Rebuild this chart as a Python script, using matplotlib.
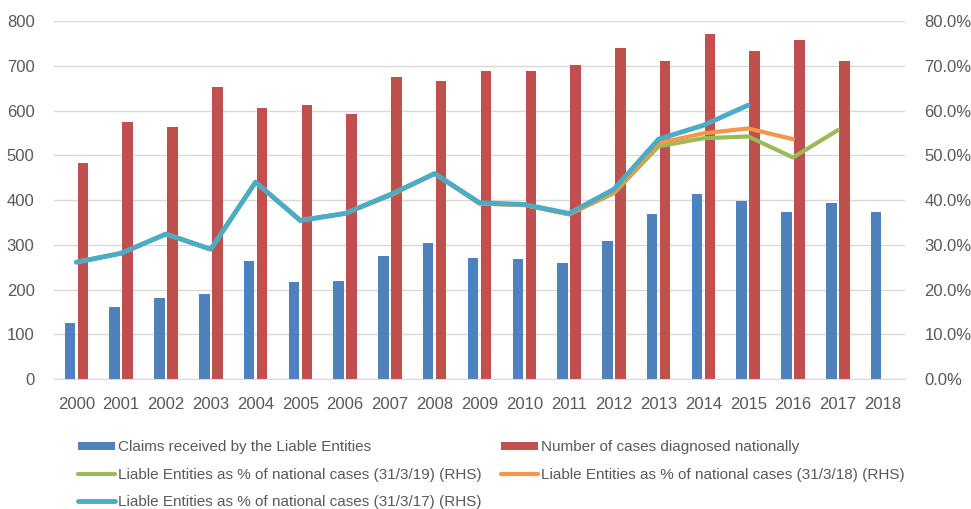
import numpy as np
import matplotlib
matplotlib.use('Agg')
import matplotlib.pyplot as plt
from matplotlib.ticker import PercentFormatter

plt.rcParams['font.family'] = ['Liberation Sans', 'DejaVu Sans']

years = [str(y) for y in range(2000, 2019)]

claims = [125, 161, 181, 190, 264, 217, 219, 275, 304, 270,
          268, 259, 309, 369, 413, 397, 373, 393, 373]
national = [482, 574, 563, 652, 605, 612, 592, 676, 666, 688,
            688, 702, 739, 711, 770, 734, 758, 710, np.nan]

# % of national cases, by reporting date (RHS)
pct_19 = [26.1, 28.1, 32.4, 29.0, 44.0, 35.5, 37.0, 41.0, 45.9, 39.2,
          38.9, 36.8, 41.5, 52.0, 53.8, 54.2, 49.5, 55.6, np.nan]
pct_18 = [26.1, 28.1, 32.4, 29.0, 44.0, 35.5, 37.0, 41.0, 45.9, 39.2,
          38.9, 36.8, 41.8, 52.7, 54.9, 56.0, 53.6, np.nan, np.nan]
pct_17 = [26.1, 28.1, 32.4, 29.0, 44.0, 35.4, 37.0, 41.2, 45.9, 39.4,
          39.0, 37.0, 42.4, 53.6, 56.7, 61.2, np.nan, np.nan, np.nan]

blue = '#4f81bd'
red = '#c0504d'
green = '#9bbb59'
orange = '#f79646'
cyan = '#4bacc6'
grey = '#595959'

fig = plt.figure(figsize=(9.71, 5.09), dpi=100)
ax = fig.add_axes([0.0556, 0.2554, 0.8764, 0.7033])
ax2 = ax.twinx()

x = np.arange(len(years))
w = 0.235
b1 = ax.bar(x - 0.145, claims, w, color=blue, zorder=2,
            label='Claims received by the Liable Entities')
b2 = ax.bar(x + 0.145, national, w, color=red, zorder=2,
            label='Number of cases diagnosed nationally')

l1, = ax2.plot(x, pct_19, color=green, lw=3, solid_capstyle='round',
               label='Liable Entities as % of national cases (31/3/19) (RHS)')
l2, = ax2.plot(x, pct_18, color=orange, lw=3, solid_capstyle='round',
               label='Liable Entities as % of national cases (31/3/18) (RHS)')
l3, = ax2.plot(x, pct_17, color=cyan, lw=3.5, solid_capstyle='round',
               label='Liable Entities as % of national cases (31/3/17) (RHS)')

ax.set_xlim(-0.5, len(years) - 0.5)
ax.set_ylim(0, 800)
ax.set_yticks(range(0, 801, 100))
ax2.set_ylim(0, 80)
ax2.set_yticks(range(0, 81, 10))
ax2.yaxis.set_major_formatter(PercentFormatter(decimals=1))

ax.set_xticks(x)
ax.set_xticklabels(years)
ax.grid(axis='y', color='#d9d9d9', lw=1, zorder=0)
ax.set_axisbelow(True)

for a in (ax, ax2):
    for s in a.spines.values():
        s.set_visible(False)
    a.tick_params(length=0, labelsize=12, colors=grey)
ax.spines['bottom'].set_visible(True)
ax.spines['bottom'].set_color('#d9d9d9')
ax.tick_params(axis='x', pad=13)
ax.tick_params(axis='y', pad=14)
ax2.tick_params(axis='y', pad=14)

handles = [b1, l1, l3, b2, l2]
fig.legend(handles=handles, labels=[h.get_label() for h in handles],
           loc='upper left', bbox_to_anchor=(0.074, 0.147), ncol=2,
           frameon=False, handlelength=2.4, handleheight=0.5, handletextpad=0.25,
           columnspacing=1.23, labelspacing=0.88, borderaxespad=0,
           prop={'size': 11}, labelcolor=grey)

fig.savefig('out.png', dpi=100)
